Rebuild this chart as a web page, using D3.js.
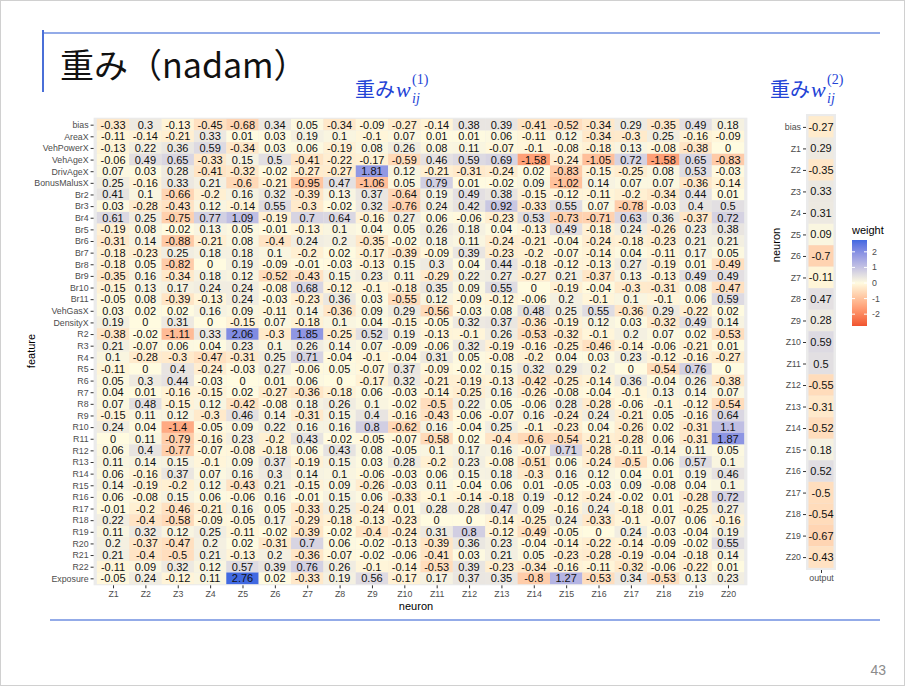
<!DOCTYPE html>
<html>
<head>
<meta charset="utf-8">
<script src="https://cdn.jsdelivr.net/npm/d3@7"></script>
<style>
  body { margin: 0; background: #fff; }
  svg { display: block; font-family: "Liberation Sans", Arial, sans-serif; }
</style>
</head>
<body>
<svg id="slide" width="905" height="686"></svg>
<script>
// row / column labels
const features = ["bias", "AreaX", "VehPowerX", "VehAgeX", "DrivAgeX", "BonusMalusX",
  "Br2", "Br3", "Br4", "Br5", "Br6", "Br7", "Br8", "Br9", "Br10", "Br11", "VehGasX", "DensityX",
  "R2", "R3", "R4", "R5", "R6", "R7", "R8", "R9", "R10", "R11", "R12", "R13", "R14", "R15",
  "R16", "R17", "R18", "R19", "R20", "R21", "R22", "Exposure"];
const neurons = ["Z1", "Z2", "Z3", "Z4", "Z5", "Z6", "Z7", "Z8", "Z9", "Z10",
  "Z11", "Z12", "Z13", "Z14", "Z15", "Z16", "Z17", "Z18", "Z19", "Z20"];
const outNeurons = ["bias"].concat(neurons);

// weights layer 1 (one row per feature, Z1..Z20)
const w1 = [
  [-0.33, 0.3, -0.13, -0.45, -0.68, 0.34, 0.05, -0.34, -0.09, -0.27, -0.14, 0.38, 0.39, -0.41, -0.52, -0.34, 0.29, -0.35, 0.49, 0.18],
  [-0.11, -0.14, -0.21, 0.33, 0.01, 0.03, 0.19, 0.1, -0.1, 0.07, 0.01, 0.01, 0.06, -0.11, 0.12, -0.34, -0.3, 0.25, -0.16, -0.09],
  [-0.13, 0.22, 0.36, 0.59, -0.34, 0.03, 0.06, -0.19, 0.08, 0.26, 0.08, 0.11, -0.07, -0.1, -0.08, -0.18, 0.13, -0.08, -0.38, 0],
  [-0.06, 0.49, 0.65, -0.33, 0.15, 0.5, -0.41, -0.22, -0.17, -0.59, 0.46, 0.59, 0.69, -1.58, -0.24, -1.05, 0.72, -1.58, 0.65, -0.83],
  [0.07, 0.03, 0.28, -0.41, -0.32, -0.02, -0.27, -0.27, 1.81, 0.12, -0.21, -0.31, -0.24, 0.02, -0.83, -0.15, -0.25, 0.08, 0.53, -0.03],
  [0.25, -0.16, 0.33, 0.21, -0.6, -0.21, -0.95, 0.47, -1.06, 0.05, 0.79, 0.01, -0.02, 0.09, -1.02, 0.14, 0.07, 0.07, -0.36, -0.14],
  [0.41, 0.1, -0.66, -0.2, 0.16, 0.32, -0.39, 0.13, 0.37, -0.64, 0.19, 0.49, 0.38, -0.15, -0.12, -0.11, -0.2, -0.34, 0.44, 0.01],
  [0.03, -0.28, -0.43, 0.12, -0.14, 0.55, -0.3, -0.02, 0.32, -0.76, 0.24, 0.42, 0.92, -0.33, 0.55, 0.07, -0.78, -0.03, 0.4, 0.5],
  [0.61, 0.25, -0.75, 0.77, 1.09, -0.19, 0.7, 0.64, -0.16, 0.27, 0.06, -0.06, -0.23, 0.53, -0.73, -0.71, 0.63, 0.36, -0.37, 0.72],
  [-0.19, 0.08, -0.02, 0.13, 0.05, -0.01, -0.13, 0.1, 0.04, 0.05, 0.26, 0.18, 0.04, -0.13, 0.49, -0.18, 0.24, -0.26, 0.23, 0.38],
  [-0.31, 0.14, -0.88, -0.21, 0.08, -0.4, 0.24, 0.2, -0.35, -0.02, 0.18, 0.11, -0.24, -0.21, -0.04, -0.24, -0.18, -0.23, 0.21, 0.21],
  [-0.18, -0.23, 0.25, 0.18, 0.18, 0.1, -0.2, 0.02, -0.17, -0.39, -0.09, 0.39, -0.23, -0.2, -0.07, -0.14, 0.04, -0.11, 0.17, 0.05],
  [-0.18, 0.05, -0.82, 0, 0.19, -0.09, -0.01, -0.03, -0.13, 0.15, 0.3, 0.04, 0.44, -0.18, -0.12, -0.13, 0.27, -0.19, 0.01, -0.49],
  [-0.35, 0.16, -0.34, 0.18, 0.12, -0.52, -0.43, 0.15, 0.23, 0.11, -0.29, 0.22, 0.27, -0.27, 0.21, -0.37, 0.13, -0.13, 0.49, 0.49],
  [-0.15, 0.13, 0.17, 0.24, 0.24, -0.08, 0.68, -0.12, -0.1, -0.18, 0.35, 0.09, 0.55, 0, -0.19, -0.04, -0.3, -0.31, 0.08, -0.47],
  [-0.05, 0.08, -0.39, -0.13, 0.24, -0.03, -0.23, 0.36, 0.03, -0.55, 0.12, -0.09, -0.12, -0.06, 0.2, -0.1, 0.1, -0.1, 0.06, 0.59],
  [0.03, 0.02, 0.02, 0.16, 0.09, -0.11, 0.14, -0.36, 0.09, 0.29, -0.56, -0.03, 0.08, 0.48, 0.25, 0.55, -0.36, 0.29, -0.22, 0.02],
  [0.19, 0, 0.31, 0, -0.15, 0.07, -0.18, 0.1, 0.04, -0.15, -0.05, 0.32, 0.37, -0.36, -0.19, 0.12, 0.03, -0.32, 0.49, 0.14],
  [-0.38, -0.02, -1.11, 0.33, 2.06, -0.3, 1.85, -0.25, 0.52, 0.19, -0.13, -0.1, 0.26, -0.53, -0.32, -0.1, 0.2, 0.07, 0.02, -0.53],
  [0.21, -0.07, 0.06, 0.04, 0.23, 0.1, 0.26, 0.14, 0.07, -0.09, -0.06, 0.32, -0.19, -0.16, -0.25, -0.46, -0.14, -0.06, -0.21, 0.01],
  [0.1, -0.28, -0.3, -0.47, -0.31, 0.25, 0.71, -0.04, -0.1, -0.04, 0.31, 0.05, -0.08, -0.2, 0.04, 0.03, 0.23, -0.12, -0.16, -0.27],
  [-0.11, 0, 0.4, -0.24, -0.03, 0.27, -0.06, 0.05, -0.07, 0.37, -0.09, -0.02, 0.15, 0.32, 0.29, 0.2, 0, -0.54, 0.76, 0],
  [0.05, 0.3, 0.44, -0.03, 0, 0.01, 0.06, 0, -0.17, 0.32, -0.21, -0.19, -0.13, -0.42, -0.25, -0.14, 0.36, -0.04, 0.26, -0.38],
  [0.04, 0.01, -0.16, -0.15, 0.02, -0.27, -0.36, -0.18, 0.06, -0.03, -0.14, -0.25, 0.16, -0.26, -0.08, -0.04, -0.1, 0.13, 0.14, 0.07],
  [0.07, 0.48, -0.15, 0.12, -0.42, -0.08, 0.18, 0.26, 0.1, -0.02, -0.5, 0.22, 0.05, -0.06, 0.28, -0.28, -0.06, -0.1, -0.12, -0.54],
  [-0.15, 0.11, 0.12, -0.3, 0.46, 0.14, -0.31, 0.15, 0.4, -0.16, -0.43, -0.06, -0.07, 0.16, -0.24, 0.24, -0.21, 0.05, -0.16, 0.64],
  [0.24, 0.04, -1.4, -0.05, 0.09, 0.22, 0.16, 0.16, 0.8, -0.62, 0.16, -0.04, 0.25, -0.1, -0.23, 0.04, -0.26, 0.02, -0.31, 1.1],
  [0, 0.11, -0.79, -0.16, 0.23, -0.2, 0.43, -0.02, -0.05, -0.07, -0.58, 0.02, -0.4, -0.6, -0.54, -0.21, -0.28, 0.06, -0.31, 1.87],
  [0.06, 0.4, -0.77, -0.07, -0.08, -0.18, 0.06, 0.43, 0.08, -0.05, 0.1, 0.17, 0.16, -0.07, 0.71, -0.28, -0.11, -0.14, 0.11, 0.05],
  [0.11, 0.14, 0.15, -0.1, 0.09, 0.37, -0.19, 0.15, 0.03, 0.28, -0.2, 0.23, -0.08, -0.51, 0.06, -0.24, -0.5, 0.06, 0.57, 0.1],
  [0.06, -0.16, 0.37, 0.07, 0.16, 0.3, 0.14, 0.1, -0.06, -0.03, 0.06, 0.15, 0.18, -0.3, 0.16, 0.12, 0.04, 0.01, 0.19, 0.46],
  [0.14, -0.19, -0.2, 0.12, -0.43, 0.21, -0.15, 0.09, -0.26, -0.03, 0.11, -0.04, 0.06, 0.01, -0.05, -0.03, 0.09, -0.08, 0.04, 0.1],
  [0.06, -0.08, 0.15, 0.06, -0.06, 0.16, -0.01, 0.15, 0.06, -0.33, -0.1, -0.14, -0.18, 0.19, -0.12, -0.24, -0.02, 0.01, -0.28, 0.72],
  [-0.01, -0.2, -0.46, -0.21, 0.16, 0.05, -0.33, 0.25, -0.24, 0.01, 0.28, 0.28, 0.47, 0.09, -0.16, 0.24, -0.18, 0.01, -0.25, 0.27],
  [0.22, -0.4, -0.58, -0.09, -0.05, 0.17, -0.29, -0.18, -0.13, -0.23, 0, 0, -0.14, -0.25, 0.24, -0.33, -0.1, -0.07, 0.06, -0.16],
  [0.11, 0.32, 0.12, 0.25, -0.11, -0.02, -0.39, -0.02, -0.4, -0.24, 0.31, 0.8, -0.12, -0.49, -0.05, 0, 0.24, -0.03, -0.04, 0.19],
  [0.2, -0.37, -0.47, 0.2, 0.02, -0.31, 0.7, 0.06, -0.02, -0.13, -0.39, 0.36, 0.23, -0.04, -0.14, -0.22, -0.14, -0.09, -0.02, 0.55],
  [0.21, -0.4, -0.5, 0.21, -0.13, 0.2, -0.36, -0.07, -0.02, -0.06, -0.41, 0.03, 0.21, 0.05, -0.23, -0.28, -0.19, -0.04, -0.18, 0.14],
  [-0.11, 0.09, 0.32, 0.12, 0.57, 0.39, 0.76, 0.26, -0.1, -0.14, -0.53, 0.39, -0.23, -0.34, -0.16, -0.11, -0.32, -0.06, -0.22, 0.01],
  [-0.05, 0.24, -0.12, 0.11, 2.76, 0.02, -0.33, 0.19, 0.56, -0.17, 0.17, 0.37, 0.35, -0.8, 1.27, -0.53, 0.34, -0.53, 0.13, 0.23]
];

// weights layer 2 (bias, Z1..Z20 -> output)
const w2 = [-0.27, 0.29, -0.35, 0.33, 0.31, 0.09, -0.7, -0.11, 0.47, 0.28, 0.59,
  0.5, -0.55, -0.31, -0.52, 0.18, 0.52, -0.5, -0.54, -0.67, -0.43];

const legendTicks = [2, 1, 0, -1, -2];

const svg = d3.select("#slide");
const limit = 2.76;
const color = d3.scaleLinear()
  .domain([-limit, 0, limit])
  .range(["#F0532F", "#FFFBE0", "#4169E1"])
  .interpolate(d3.interpolateLab);

// slide decoration
svg.append("rect").attr("x", 0.5).attr("y", 0.5).attr("width", 904).attr("height", 685)
  .attr("fill", "none").attr("stroke", "#d0d0d0");
svg.append("line").attr("x1", 44).attr("x2", 880).attr("y1", 33).attr("y2", 33)
  .attr("stroke", "#6f8fe0").attr("stroke-width", 1.5);
svg.append("line").attr("x1", 43).attr("x2", 43).attr("y1", 30).attr("y2", 92)
  .attr("stroke", "#4a6fd8").attr("stroke-width", 2);
svg.append("line").attr("x1", 50).attr("x2", 880).attr("y1", 620).attr("y2", 620)
  .attr("stroke", "#6f8fe0").attr("stroke-width", 1.5);
svg.append("text").attr("x", 60).attr("y", 78)
  .style("font-family", "'Noto Sans CJK JP', sans-serif").style("font-size", "34px")
  .attr("fill", "#111").text("重み（nadam）");
svg.append("text").attr("x", 886).attr("y", 675).attr("text-anchor", "end")
  .style("font-size", "14px").attr("fill", "#8c8c8c").text("43");

// blue subtitles with w_ij^(k)
function subtitle(x, k) {
  const g = svg.append("g").attr("fill", "#2343d6");
  g.append("text").attr("x", x).attr("y", 97)
    .style("font-family", "'Noto Sans CJK JP', sans-serif").style("font-size", "20px")
    .text("重み");
  g.append("text").attr("x", x + 41).attr("y", 97)
    .style("font-family", "'Liberation Serif', serif").style("font-style", "italic")
    .style("font-size", "22px").text("w");
  g.append("text").attr("x", x + 57).attr("y", 103)
    .style("font-family", "'Liberation Serif', serif").style("font-style", "italic")
    .style("font-size", "14px").text("ij");
  g.append("text").attr("x", x + 57).attr("y", 84)
    .style("font-family", "'Liberation Serif', serif")
    .style("font-size", "14px").text("(" + k + ")");
}
subtitle(355, 1);
subtitle(770, 2);

// generic tile heatmap
function heatmap(cells, xDomain, yDomain, xr, yr) {
  const x = d3.scalePoint().domain(xDomain).range(xr).padding(0.6);
  const y = d3.scalePoint().domain(yDomain).range(yr).padding(0.6);
  const g = svg.append("g");
  g.append("rect").attr("x", xr[0]).attr("y", yr[0])
    .attr("width", xr[1] - xr[0]).attr("height", yr[1] - yr[0]).attr("fill", "#EBEBEB");
  g.selectAll("rect.tile").data(cells).enter().append("rect")
    .attr("class", "tile")
    .attr("x", d => x(d.col) - x.step() / 2)
    .attr("y", d => y(d.row) - y.step() / 2)
    .attr("width", x.step())
    .attr("height", y.step())
    .attr("fill", d => color(d.value));
  g.selectAll("text.val").data(cells).enter().append("text")
    .attr("class", "val")
    .attr("x", d => x(d.col))
    .attr("y", d => y(d.row))
    .attr("text-anchor", "middle")
    .attr("dominant-baseline", "central")
    .style("font-size", "11px")
    .attr("fill", "#111")
    .text(d => String(d.value));

  const ya = g.append("g").attr("transform", `translate(${xr[0]},0)`)
    .call(d3.axisLeft(y).tickSize(3).tickPadding(2));
  const xa = g.append("g").attr("transform", `translate(0,${yr[1]})`)
    .call(d3.axisBottom(x).tickSize(3).tickPadding(2));
  [ya, xa].forEach(a => {
    a.select(".domain").remove();
    a.selectAll("line").attr("stroke", "#333");
    a.selectAll("text").attr("fill", "#4D4D4D").style("font-size", "8.8px")
      .style("font-family", "'Liberation Sans', Arial, sans-serif");
  });
  return g;
}

// layer 1
const cells1 = [];
features.forEach((f, i) => neurons.forEach((n, j) => cells1.push({ row: f, col: n, value: w1[i][j] })));
heatmap(cells1, neurons, features, [93.6, 747.4], [117.7, 585.3]);
svg.append("text").attr("x", 416).attr("y", 610).attr("text-anchor", "middle")
  .style("font-size", "11px").text("neuron");
svg.append("text").attr("transform", "translate(35,351) rotate(-90)").attr("text-anchor", "middle")
  .style("font-size", "11px").text("feature");

// layer 2
const cells2 = outNeurons.map((n, i) => ({ row: n, col: "output", value: w2[i] }));
heatmap(cells2, ["output"], outNeurons, [806, 836], [114, 570]);
svg.append("text").attr("transform", "translate(780,245) rotate(-90)").attr("text-anchor", "middle")
  .style("font-size", "11px").text("neuron");

// legend
const lg = svg.append("g");
const ly = d3.scaleLinear().domain([limit, -limit]).range([240, 326]);
const grad = svg.append("defs").append("linearGradient").attr("id", "wgrad")
  .attr("x1", 0).attr("x2", 0).attr("y1", 0).attr("y2", 1);
d3.range(0, 1.0001, 0.05).forEach(t => {
  grad.append("stop").attr("offset", t).attr("stop-color", color(limit - t * 2 * limit));
});
lg.append("text").attr("x", 852).attr("y", 234).style("font-size", "11px").text("weight");
lg.append("rect").attr("x", 852).attr("y", ly(limit)).attr("width", 15)
  .attr("height", ly(-limit) - ly(limit)).attr("fill", "url(#wgrad)");
legendTicks.forEach(t => {
  lg.append("line").attr("x1", 852).attr("x2", 855).attr("y1", ly(t)).attr("y2", ly(t))
    .attr("stroke", "#fff");
  lg.append("line").attr("x1", 864).attr("x2", 867).attr("y1", ly(t)).attr("y2", ly(t))
    .attr("stroke", "#fff");
  lg.append("text").attr("x", 872).attr("y", ly(t)).attr("dominant-baseline", "central")
    .style("font-size", "8.8px").attr("fill", "#4D4D4D").text(t);
});
</script>
</body>
</html>
